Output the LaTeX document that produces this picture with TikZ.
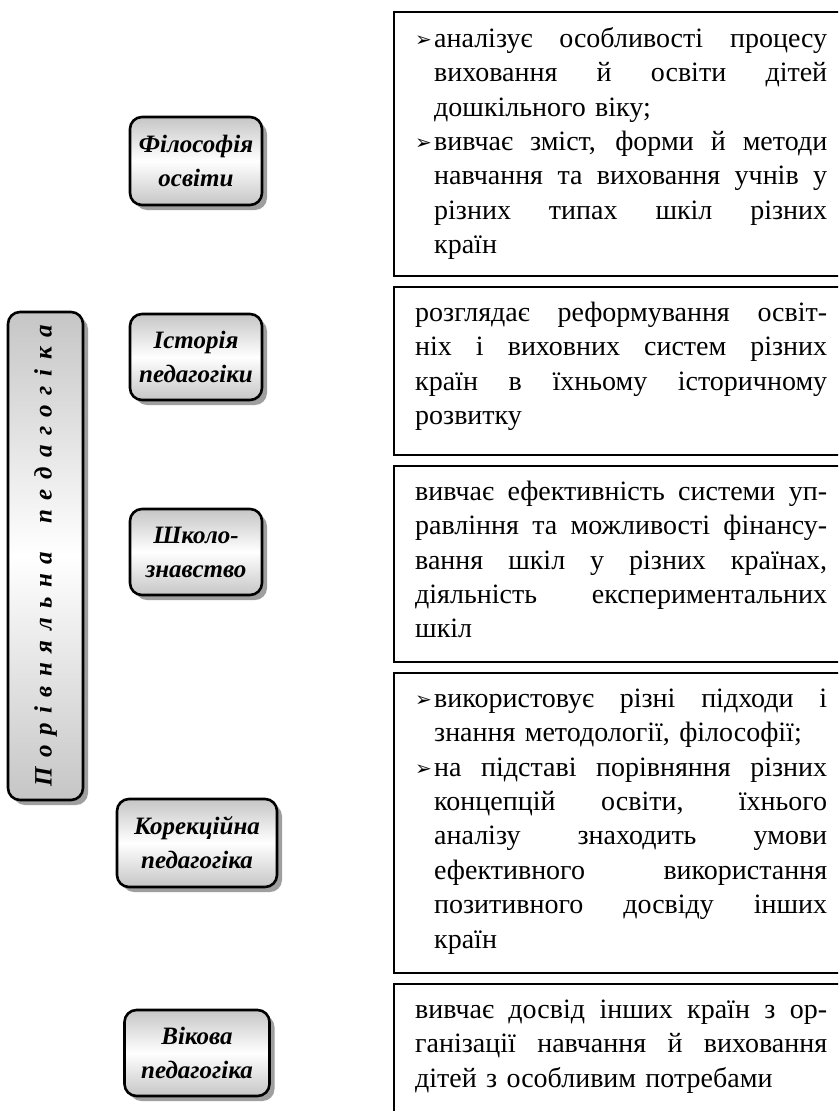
\documentclass[tikz,border=0pt]{standalone}
\usepackage{fontspec}
\setmainfont{Liberation Serif}
\newfontfamily\dejavu{DejaVu Sans}
\usetikzlibrary{shadows}
\newcommand\jl[2]{{\spaceskip=0pt\xspaceskip=0pt\makebox[#1][s]{#2}}}
\newcommand\bul{\makebox[19pt][l]{\raisebox{0.5pt}{\dejavu\fontsize{20}{20}\selectfont ➢}}}
\newcommand\ind{\hspace*{19pt}}
\newcommand\ls{\hspace{9.5pt}}
\tikzset{
  rbox/.style={draw=black, line width=2.4pt},
  txt/.style={anchor=north west, inner sep=0pt, text width=430pt, align=left,
    font=\fontsize{28}{34.4}\selectfont},
  mbox/.style={draw=black, line width=2.6pt, rounded corners=12pt,
    top color=gray!45, bottom color=gray!45, middle color=white,
    general shadow={fill=gray!75, shadow xshift=5pt, shadow yshift=-5pt},
    align=center, inner sep=2pt,
    font=\bfseries\itshape\fontsize{25}{34}\selectfont}
}
\begin{document}
\begin{tikzpicture}[x=1pt,y=-1pt]
\useasboundingbox (0,0) rectangle (838,1111);
\clip (0,0) rectangle (838,1111);
\fill[white] (0,0) rectangle (838,1111);

% right boxes
\draw[rbox] (394,12) rectangle (900,276);
\draw[rbox] (394,287) rectangle (900,455);
\draw[rbox] (394,466) rectangle (900,662);
\draw[rbox] (394,673) rectangle (900,973);
\draw[rbox] (394,984) rectangle (900,1150);

\node[txt] (t1) at (415,23) {\strut\bul\jl{393pt}{аналізує особливості процесу}\\
\ind\jl{393pt}{виховання й освіти дітей}\\
\ind дошкільного віку;\\
\bul\jl{393pt}{вивчає зміст, форми й методи}\\
\ind\jl{393pt}{навчання та виховання учнів у}\\
\ind\jl{393pt}{різних типах шкіл різних}\\
\ind країн};

\node[txt] (t2) at (415,297) {\strut\jl{412pt}{розглядає реформування освіт-}\\
\jl{412pt}{ніх і виховних систем різних}\\
\jl{412pt}{країн в їхньому історичному}\\
розвитку};

\node[txt] (t3) at (415,476) {\strut\jl{412pt}{вивчає ефективність системи уп-}\\
\jl{412pt}{равління та можливості фінансу-}\\
\jl{412pt}{вання шкіл у різних країнах,}\\
\jl{412pt}{діяльність експериментальних}\\
шкіл};

\node[txt] (t4) at (415,683) {\strut\bul\jl{393pt}{використовує різні підходи і}\\
\ind знання методології, філософії;\\
\bul\jl{393pt}{на підставі порівняння різних}\\
\ind\jl{393pt}{концепцій освіти, їхнього}\\
\ind\jl{393pt}{аналізу знаходить умови}\\
\ind\jl{393pt}{ефективного використання}\\
\ind\jl{393pt}{позитивного досвіду інших}\\
\ind країн};

\node[txt] (t5) at (415,994) {\strut\jl{412pt}{вивчає досвід інших країн з ор-}\\
\jl{412pt}{ганізації навчання й виховання}\\
дітей з особливим потребами};

% middle boxes
\node[mbox, minimum width=132pt, minimum height=88pt] (m1) at (196,161) {Філософія\\освіти};
\node[mbox, minimum width=132pt, minimum height=86pt] (m2) at (196,357) {Історія\\педагогіки};
\node[mbox, minimum width=132pt, minimum height=86pt] (m3) at (196,552) {Школо-\\знавство};
\node[mbox, minimum width=160pt, minimum height=88pt] (m4) at (197,843) {Корекційна\\педагогіка};
\node[mbox, minimum width=145pt, minimum height=86pt] (m5) at (197,1053) {Вікова\\педагогіка};

% vertical box
\node[mbox, rotate=90, minimum width=488pt, minimum height=75pt, font=\bfseries\itshape\fontsize{25}{28}\selectfont] (v) at (45.5,556)
 {П\ls о\ls р\ls і\ls в\ls н\ls я\ls л\ls ь\ls н\ls а\hspace{28pt}п\ls е\ls д\ls а\ls г\ls о\ls г\ls і\ls к\ls а};
\end{tikzpicture}
\end{document}
